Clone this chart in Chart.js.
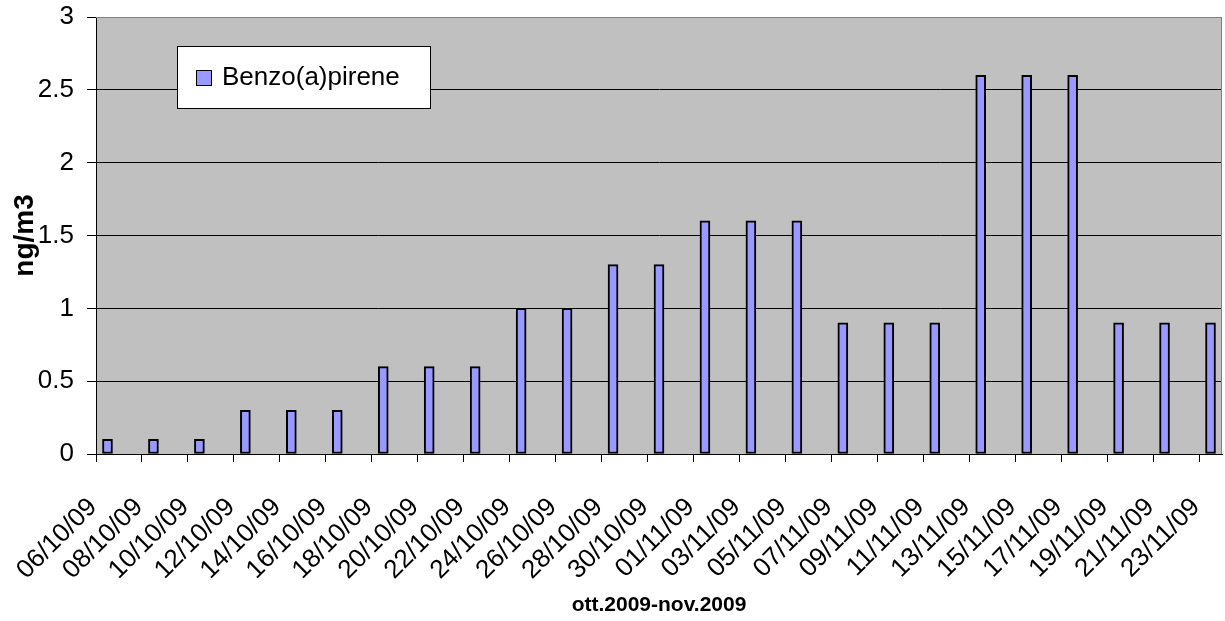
<!DOCTYPE html>
<html><head><meta charset="utf-8">
<script src="https://cdn.jsdelivr.net/npm/chart.js@4"></script>
<style>html,body{margin:0;padding:0;background:#fff}#wrap{width:1225px;height:621px;position:relative}</style>
</head><body><div id="wrap"><canvas id="c"></canvas></div>
<script>
const dates = ["06/10/09","08/10/09","10/10/09","12/10/09","14/10/09","16/10/09","18/10/09","20/10/09","22/10/09","24/10/09","26/10/09","28/10/09","30/10/09","01/11/09","03/11/09","05/11/09","07/11/09","09/11/09","11/11/09","13/11/09","15/11/09","17/11/09","19/11/09","21/11/09","23/11/09"];
const values = [0.1,0.1,0.1,0.3,0.3,0.3,0.6,0.6,0.6,1.0,1.0,1.3,1.3,1.6,1.6,1.6,0.9,0.9,0.9,2.6,2.6,2.6,0.9,0.9,0.9];
const seriesName = "Benzo(a)pirene";
const xTitle = "ott.2009-nov.2009";
const yTitle = "ng/m3";
const yMin = 0, yMax = 3, yStep = 0.5;

function dayNum(s){const p=s.split('/').map(Number);return Date.UTC(2000+p[2],p[1]-1,p[0])/86400000;}
const day0 = dayNum(dates[0]);
const offsets = dates.map(s=>dayNum(s)-day0);
const lastDay = offsets[offsets.length-1]+1;
const points = offsets.map((o,i)=>({x:o+0.5,y:values[i]}));

const FONT = "'Liberation Sans', Arial, sans-serif";

const plotDeco = {
  id:'plotDeco',
  beforeDraw(chart){
    const {ctx, chartArea:a} = chart;
    ctx.save();
    ctx.fillStyle = '#C0C0C0';
    ctx.fillRect(a.left, a.top, a.right-a.left, a.bottom-a.top);
    ctx.restore();
  },
  afterDatasetsDraw(chart){
    const {ctx, chartArea:a} = chart;
    ctx.save();
    ctx.strokeStyle = '#808080';
    ctx.lineWidth = 1;
    ctx.beginPath();
    ctx.moveTo(a.left, a.top+0.5);
    ctx.lineTo(a.right-0.5, a.top+0.5);
    ctx.lineTo(a.right-0.5, a.bottom);
    ctx.stroke();
    ctx.restore();
  },
  afterDraw(chart){
    const {ctx, chartArea:a} = chart;
    const ds = chart.data.datasets[0];
    const bx = a.left+81, by = a.top+29, bw = 253, bh = 62;
    ctx.save();
    ctx.fillStyle = '#fff';
    ctx.fillRect(bx, by, bw, bh);
    ctx.strokeStyle = '#000';
    ctx.lineWidth = 1;
    ctx.strokeRect(bx+0.5, by+0.5, bw, bh);
    ctx.fillStyle = ds.backgroundColor;
    ctx.fillRect(bx+19.5, by+24.5, 15, 15);
    ctx.strokeRect(bx+19.5, by+24.5, 15, 15);
    ctx.fillStyle = '#000';
    ctx.font = "26px " + FONT;
    ctx.textBaseline = 'middle';
    ctx.textAlign = 'left';
    ctx.fillText(ds.label, bx+45, by+bh/2+1);
    ctx.restore();
  }
};

new Chart(document.getElementById('c'), {
  type:'bar',
  data:{datasets:[{label:seriesName,data:points,backgroundColor:'#9999FF',borderColor:'#000',borderWidth:2,borderSkipped:false,barThickness:10}]},
  options:{
    responsive:true, maintainAspectRatio:false, animation:false, devicePixelRatio:1,
    layout:{padding:{top:17,right:3,bottom:0,left:0}},
    plugins:{legend:{display:false},tooltip:{enabled:false}},
    scales:{
      x:{type:'linear',min:0,max:lastDay,offset:false,
        afterBuildTicks(s){s.ticks = offsets.map(v=>({value:v}));},
        afterFit(s){s.height = 621-454; s.paddingLeft = 0; s.paddingRight = 0;},
        ticks:{autoSkip:false,maxRotation:45,minRotation:45,padding:30,labelOffset:-3,color:'#000',font:{family:FONT,size:26},
          callback:(v,i)=>dates[i]},
        grid:{offset:false,drawOnChartArea:false,drawTicks:true,tickLength:8,tickColor:'#000'},
        border:{display:true,color:'#000',width:1},
        title:{display:true,text:xTitle,color:'#000',font:{family:FONT,size:21,weight:'bold'},padding:{top:0,bottom:3}}
      },
      y:{min:yMin,max:yMax,
        afterFit(s){s.width = 96; s.paddingTop = 0; s.paddingBottom = 0;},
        ticks:{stepSize:yStep,padding:13,color:'#000',font:{family:FONT,size:26},callback:v=>String(v)},
        grid:{color:c=>c.tick && c.tick.value===yMax?'#808080':'#000',lineWidth:1,tickLength:9,tickColor:'#000'},
        border:{display:true,color:'#000',width:1},
        title:{display:true,text:yTitle,color:'#000',font:{family:FONT,size:28,weight:'bold'},padding:{top:8,bottom:0}}
      }
    }
  },
  plugins:[plotDeco]
});
</script></body></html>
